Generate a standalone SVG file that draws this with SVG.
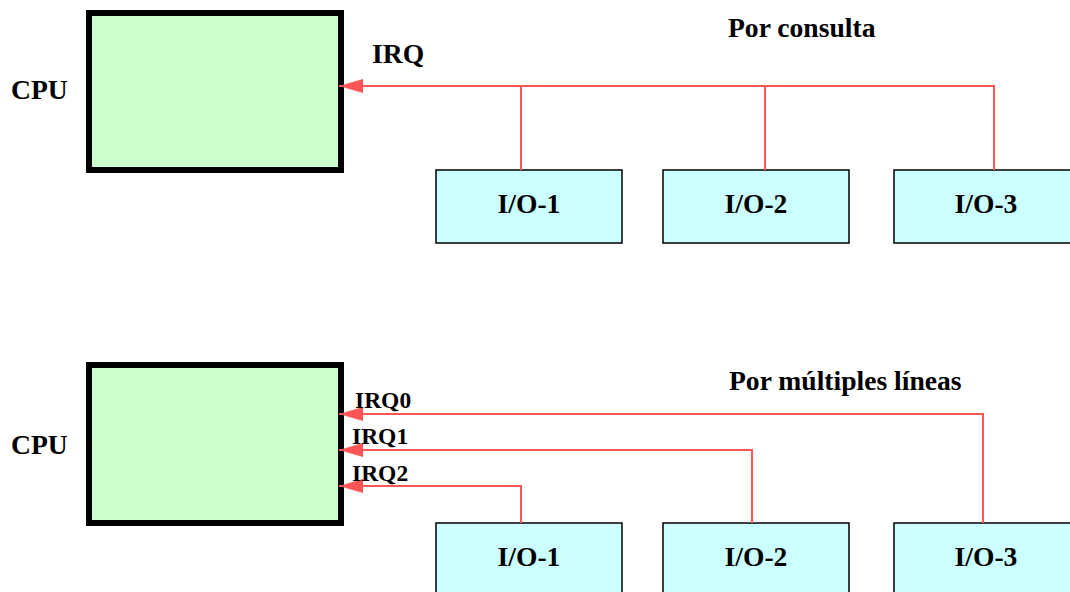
<svg xmlns="http://www.w3.org/2000/svg" width="1070" height="592" viewBox="0 0 1070 592">
<style>
.cpu{fill:#CCFFCC;stroke:#000;stroke-width:6}
.io{fill:#CCFFFF;stroke:#000;stroke-width:1.5}
.t{font-family:"Liberation Serif","Times New Roman",serif;font-weight:bold;font-size:27.6px;fill:#000}
.s{font-family:"Liberation Serif","Times New Roman",serif;font-weight:bold;font-size:23.5px;fill:#000}
.c{text-anchor:middle}
.w{fill:none;stroke:#FF5555;stroke-width:2}
</style>
<defs>
<marker id="ah" viewBox="0 0 24 14" refX="24" refY="7" markerWidth="24" markerHeight="14" markerUnits="userSpaceOnUse" orient="auto">
<path d="M0,0 L24,7 L0,14 z" fill="#FF5555"/>
</marker>
</defs>
<rect width="1070" height="592" fill="#fff"/>
<text class="t" x="728" y="37">Por consulta</text>
<text class="t" x="729" y="390">Por múltiples líneas</text>
<g id="cpu1">
<rect class="cpu" x="89" y="13" width="252" height="157"/>
<text class="t" x="11" y="99">CPU</text>
</g>
<g id="io1a"><rect class="io" x="436" y="170" width="186" height="73"/><text class="t c" x="529" y="213">I/O-1</text></g>
<g id="io2a"><rect class="io" x="663" y="170" width="186" height="73"/><text class="t c" x="756" y="213">I/O-2</text></g>
<g id="io3a"><rect class="io" x="894" y="170" width="186" height="73"/><text class="t c" x="986" y="213">I/O-3</text></g>
<g id="cpu2">
<rect class="cpu" x="89" y="365" width="252" height="158"/>
<text class="t" x="11" y="454">CPU</text>
</g>
<g id="io1b"><rect class="io" x="436" y="523" width="186" height="73"/><text class="t c" x="529" y="566">I/O-1</text></g>
<g id="io2b"><rect class="io" x="663" y="523" width="186" height="73"/><text class="t c" x="756" y="566">I/O-2</text></g>
<g id="io3b"><rect class="io" x="894" y="523" width="186" height="73"/><text class="t c" x="986" y="566">I/O-3</text></g>
<g id="connectors">
<polyline class="w" points="994,170 994,86 339,86" marker-end="url(#ah)"/>
<line class="w" x1="521" y1="86" x2="521" y2="170"/>
<line class="w" x1="765" y1="86" x2="765" y2="170"/>
<polyline class="w" points="983,523 983,414 339,414" marker-end="url(#ah)"/>
<polyline class="w" points="752,523 752,450 339,450" marker-end="url(#ah)"/>
<polyline class="w" points="521,523 521,486 339,486" marker-end="url(#ah)"/>
</g>
<text class="t" x="372" y="63">IRQ</text>
<text class="s" x="355" y="408">IRQ0</text>
<text class="s" x="352" y="444">IRQ1</text>
<text class="s" x="352" y="481">IRQ2</text>
</svg>
